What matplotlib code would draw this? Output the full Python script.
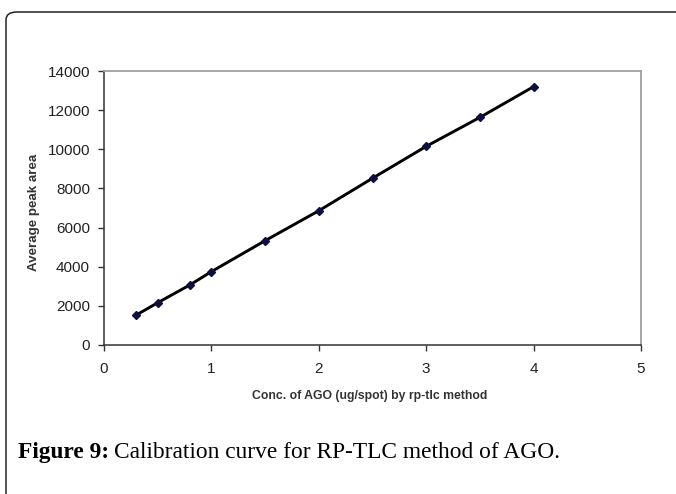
import matplotlib.pyplot as plt
from matplotlib.patches import FancyBboxPatch

# calibration data
conc = [0.3, 0.5, 0.8, 1.0, 1.5, 2.0, 2.5, 3.0, 3.5, 4.0]
peak_area = [1530, 2160, 3070, 3750, 5330, 6860, 8520, 10150, 11630, 13200]
x_ticks = [0, 1, 2, 3, 4, 5]
y_ticks = [0, 2000, 4000, 6000, 8000, 10000, 12000, 14000]

W, H = 676, 494
fig = plt.figure(figsize=(W / 100, H / 100), dpi=100)

# rounded frame around the figure (runs off the right and bottom edge)
frame = FancyBboxPatch((6 / W, -0.2), 1.2, 1 - 12 / H + 0.2,
                       boxstyle="round,pad=0,rounding_size=0.016",
                       transform=fig.transFigure, fill=False,
                       edgecolor="#222222", linewidth=1.1)
fig.patches.append(frame)

ax = fig.add_axes([104 / W, 1 - 345 / H, (641 - 104) / W, (345 - 71) / H])
ax.plot(conc, peak_area, color="black", linewidth=2.1, zorder=2)
ax.plot(conc, peak_area, linestyle="none", marker="D", markersize=3.8,
        color="#101040", zorder=3)

ax.set_xlim(0, 5)
ax.set_ylim(0, 14000)
ax.set_xticks(x_ticks)
ax.set_yticks(y_ticks)

for side in ["top", "right"]:
    ax.spines[side].set_color("#a0a0a0")
    ax.spines[side].set_linewidth(1.3)
for side in ["left", "bottom"]:
    ax.spines[side].set_color("#333333")
    ax.spines[side].set_linewidth(1.1)

ax.tick_params(direction="out", length=4, width=1, color="#333333",
               labelsize=11, labelcolor="#222222")
ax.tick_params(axis="x", pad=8)
ax.tick_params(axis="y", pad=6)
for lab in ax.get_xticklabels() + ax.get_yticklabels():
    lab.set_family("Liberation Sans")

ax.set_xlabel("Conc. of AGO (ug/spot) by rp-tlc method", fontsize=8.8,
              fontweight="bold", family="Liberation Sans", color="#333333")
ax.set_ylabel("Average peak area", fontsize=9.6, fontweight="bold",
              family="Liberation Sans", color="#333333")
ax.xaxis.set_label_coords(0.495, -(390 - 345) / 274)
ax.yaxis.set_label_coords(-(104 - 40) / 537, 0.485)

# caption under the chart
cap_y = 1 - 452 / H
bold = fig.text(18 / W, cap_y, "Figure 9:", fontsize=16.8, fontweight="bold",
                family="Liberation Serif", va="center", ha="left")
fig.canvas.draw()
bb = bold.get_window_extent()
fig.text((bb.x1 + 5) / W, cap_y, "Calibration curve for RP-TLC method of AGO.",
         fontsize=16.8, family="Liberation Serif", va="center", ha="left")

fig.savefig("out.png", dpi=100)
